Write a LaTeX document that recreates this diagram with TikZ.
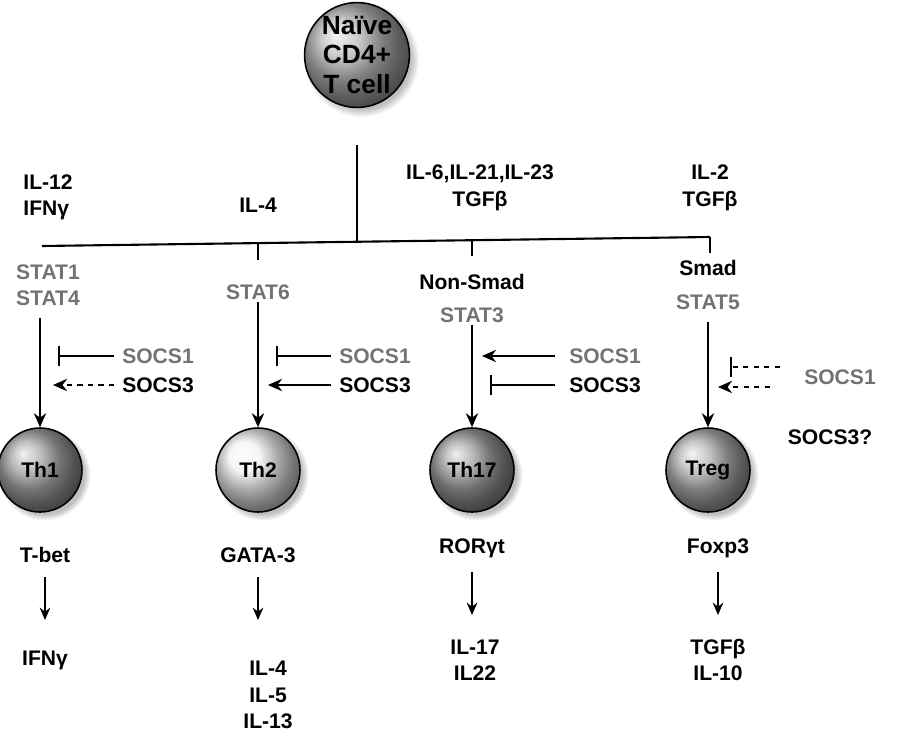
\documentclass[tikz,border=0pt]{standalone}
\usepackage{fontspec}
\setmainfont{Liberation Sans}
\usetikzlibrary{arrows.meta, positioning, shadows}
\tikzset{
  lbl/.style = {font=\fontsize{12}{15}\selectfont\bfseries, align=center, inner sep=1pt},
  glbl/.style = {lbl, text=black!55},
  cell/.style = {circle, draw, line width=0.9pt, minimum size=1.68cm, inner sep=0pt,
    font=\fontsize{12}{15}\selectfont\bfseries, align=center,
    circular drop shadow={shadow xshift=0.08cm, shadow yshift=-0.08cm, fill=black!25}},
  ln/.style = {line width=1.2pt},
  act/.style = {ln, -{Stealth[length=8pt,width=7pt]}},
  inh/.style = {ln, -{Bar[width=11pt]}},
  small/.style = {line width=1pt, -{Stealth[length=7pt,width=6pt]}}
}
\begin{document}
\begin{tikzpicture}[x=0.02cm, y=-0.02cm]
\useasboundingbox (0,0) rectangle (900,744);

% Naive cell and tree
\node [cell, minimum size=2.08cm, font=\fontsize{15}{17}\selectfont\bfseries, shading=ball, ball color=black!28] (naive) at (357,55) {Naïve\\CD4+\\T cell};
\coordinate (top) at (357,145);
\coordinate (mid) at (357,242);
\coordinate (b1) at (42,246);
\coordinate (b2) at (258,244);
\coordinate (b3) at (472,240);
\coordinate (b4) at (710,237);
\draw [ln] (top) -- (mid);
\draw [ln] (b1) -- (b4);
\draw [ln] (b2) -- ++(0,16);
\draw [ln] (b3) -- ++(0,16);
\draw [ln] (b4) -- ++(0,16);

% Cytokines
\node [lbl, align=left] (c1) at (48,197) {IL-12\\IFNγ};
\node [lbl] (c2) at (258,205) {IL-4};
\node [lbl] (c3) at (480,188) {IL-6,IL-21,IL-23\\TGFβ};
\node [lbl] (c4) at (710,188) {IL-2\\TGFβ};

% Transcription signals
\node [glbl] (s1) at (48,285) {STAT1\\STAT4};
\node [glbl] (s2) at (258,292) {STAT6};
\node [lbl] (ns) at (472,282) {Non-Smad};
\node [glbl] (s3) at (472,315) {STAT3};
\node [lbl] (sm) at (708,268) {Smad};
\node [glbl] (s5) at (708,302) {STAT5};

% Subsets
\node [cell, shading=ball, ball color=black!35] (th1) at (40,470) {Th1};
\node [cell, shading=ball, ball color=black!5] (th2) at (258,470) {Th2};
\node [cell, shading=ball, ball color=black!38] (th17) at (472,470) {Th17};
\node [cell, shading=ball, ball color=black!30] (treg) at (708,470) {Treg};

\coordinate (s1a) at (40,318);
\draw [act] (s1a) -- (th1);
\draw [act] (s2) -- (th2);
\draw [act] (s3) -- (th17);
\draw [act] (s5.south) ++(0,10) coordinate (s5a) (s5a) -- (treg);

% SOCS
\node [glbl] (a1) at (158,356) {SOCS1};
\node [lbl] (a3) at (158,385) {SOCS3};
\node [glbl] (b1s) at (375,356) {SOCS1};
\node [lbl] (b3s) at (375,385) {SOCS3};
\node [glbl] (d1) at (605,356) {SOCS1};
\node [lbl] (d3) at (605,385) {SOCS3};
\node [glbl] (e1) at (840,377) {SOCS1};
\node [lbl] (e3) at (830,437) {SOCS3?};

\coordinate (t1a) at (58,356);  \coordinate (t1b) at (53,385);
\coordinate (t2a) at (276,356); \coordinate (t2b) at (268,385);
\coordinate (t3a) at (482,356); \coordinate (t3b) at (490,385);
\coordinate (t4a) at (730,367); \coordinate (t4b) at (718,387);
\draw [inh] (a1.west) ++(-6,0) -- (t1a);
\draw [act, dashed] (a3.west) ++(-6,0) -- (t1b);
\draw [inh] (b1s.west) ++(-6,0) -- (t2a);
\draw [act] (b3s.west) ++(-6,0) -- (t2b);
\draw [act] (d1.west) ++(-12,0) -- (t3a);
\draw [inh] (d3.west) ++(-12,0) -- (t3b);
\draw [inh, dashed] (780,367) -- (t4a);
\draw [act, dashed] (770,387) -- (t4b);

% Master regulators and products
\node [lbl] (tb) at (45,555) {T-bet};
\node [lbl] (ga) at (258,555) {GATA-3};
\node [lbl] (ro) at (472,548) {RORγt};
\node [lbl] (fo) at (718,548) {Foxp3};

\node [lbl] (p1) at (45,660) {IFNγ};
\node [lbl] (p2) at (268,695) {IL-4\\IL-5\\IL-13};
\node [lbl] (p3) at (475,660) {IL-17\\IL22};
\node [lbl] (p4) at (718,660) {TGFβ\\IL-10};

\draw [small] (tb) ++(0,22) -- ++(0,43);
\draw [small] (ga) ++(0,22) -- ++(0,43);
\draw [small] (ro) ++(0,24) -- ++(0,43);
\draw [small] (fo) ++(0,24) -- ++(0,43);
\end{tikzpicture}
\end{document}
